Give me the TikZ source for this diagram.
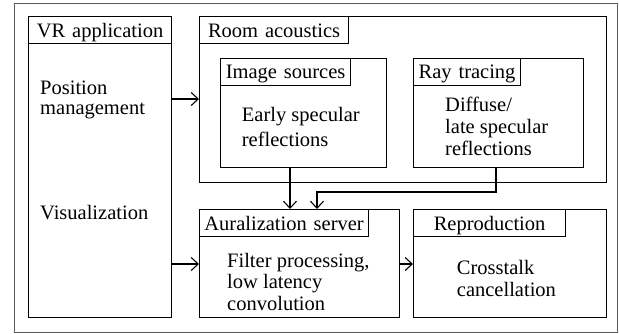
\documentclass[tikz,border=0pt]{standalone}
\usepackage{fontspec}
\setmainfont{Liberation Serif}
\usetikzlibrary{arrows.meta}
\begin{document}
\begin{tikzpicture}[x=1pt,y=-1pt,
  box/.style={draw, line width=1.2pt, inner sep=0pt, anchor=north west},
  ttl/.style={draw, fill=white, line width=1.2pt, inner xsep=0pt, inner ysep=0pt, anchor=north west,
    minimum height=27pt, text height=17pt, text depth=3pt, align=center,
    font=\fontsize{20.5}{24}\selectfont},
  txt/.style={inner sep=0pt, anchor=base west, font=\fontsize{20.5}{24}\selectfont},
  arr/.style={line width=1.1pt, -{Straight Barb[length=7pt,width=13pt]}}]
\useasboundingbox (0,0) rectangle (619,333);
\node[draw=black!65, line width=1pt, inner sep=0pt, anchor=north west,
  minimum width=603pt, minimum height=329pt] (frame) at (14,3) {};
% main boxes
\node[box, minimum width=143pt, minimum height=301pt] (vr) at (28,16) {};
\node[box, minimum width=407pt, minimum height=166pt] (room) at (199,16) {};
\node[box, minimum width=166pt, minimum height=109.3pt] (img) at (220,57.7) {};
\node[box, minimum width=170pt, minimum height=109.3pt] (ray) at (413,57.7) {};
\node[box, minimum width=200pt, minimum height=108pt] (aur) at (199,209) {};
\node[box, minimum width=193pt, minimum height=108pt] (rep) at (413,209) {};
% titles
\node[ttl, text width=143pt] (vrt) at (28,16) {VR application};
\node[ttl, text width=149pt] (roomt) at (199,16) {Room acoustics};
\node[ttl, text width=130pt] (imgt) at (220,57.7) {Image sources};
\node[ttl, text width=107pt] (rayt) at (413,57.7) {Ray tracing};
\node[ttl, text width=169pt] (aurt) at (199,209) {Auralization server};
\node[ttl, text width=152pt] (rept) at (413,209) {Reproduction};
% body texts
\node[txt] (pm1) at (40,94.3) {Position};
\node[txt] (pm2) at (40,114.3) {management};
\node[txt] (vis) at (40,219) {Visualization};
\node[txt] (es1) at (241.7,121.7) {Early specular};
\node[txt] (es2) at (241.7,146.7) {reflections};
\node[txt] (df1) at (445,111.7) {Diffuse/};
\node[txt] (df2) at (445,133) {late specular};
\node[txt] (df3) at (445,155) {reflections};
\node[txt] (fp1) at (227,267) {Filter processing,};
\node[txt] (fp2) at (227,288.5) {low latency};
\node[txt] (fp3) at (227,310) {convolution};
\node[txt] (ct1) at (456.7,274) {Crosstalk};
\node[txt] (ct2) at (456.7,296) {cancellation};
% connectors
\coordinate (r1) at (0,99);
\coordinate (r2) at (0,264);
\coordinate (c3) at (290,0);
\coordinate (c1) at (496,192);
\coordinate (c2) at (317,192);
\draw[arr] (r1 -| vr.east) -- (r1 -| room.west);
\draw[arr] (r2 -| vr.east) -- (r2 -| aur.west);
\draw[arr] (r2 -| aur.east) -- (r2 -| rep.west);
\draw[arr] (c3 |- img.south) -- (c3 |- aur.north);
\draw[arr] (c1 |- ray.south) -- (c1) -- (c2) -- (c2 |- aur.north);
\end{tikzpicture}
\end{document}
